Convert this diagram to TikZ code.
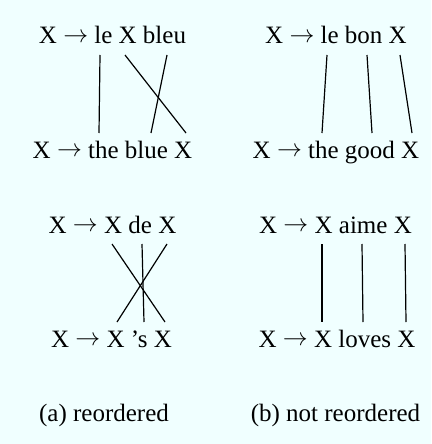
\documentclass[tikz,border=0pt]{standalone}
\usepackage{fontspec}
\setmainfont{Liberation Serif}
\definecolor{bgazure}{HTML}{F0FFFF}
\newcommand{\ruleto}{\raisebox{1.5pt}{$\rightarrow$}}
\tikzset{
  rule/.style={anchor=base, inner sep=0pt, font=\fontsize{25}{30}\selectfont},
  link/.style={line width=1.2pt, line cap=butt},
}
\begin{document}
\begin{tikzpicture}[x=1pt,y=-1pt]
\fill[bgazure] (0,0) rectangle (431,444);
\useasboundingbox (0,0) rectangle (431,444);
% panel a, row 1
\node[rule] (a1t) at (112.5,44) {X \ruleto{} le X bleu};
\node[rule] (a1b) at (112.5,158) {X \ruleto{} the blue X};
\coordinate (a1t1) at (100,55); \coordinate (a1b1) at (99,133);
\coordinate (a1t2) at (125,55); \coordinate (a1b2) at (186,133);
\coordinate (a1t3) at (167,55); \coordinate (a1b3) at (151,133);
\draw[link] (a1t1) -- (a1b1);
\draw[link] (a1t2) -- (a1b2);
\draw[link] (a1t3) -- (a1b3);
% panel b, row 1
\node[rule] (b1t) at (336,44) {X \ruleto{} le bon X};
\node[rule] (b1b) at (336,158) {X \ruleto{} the good X};
\coordinate (b1t1) at (327,55); \coordinate (b1b1) at (322,133);
\coordinate (b1t2) at (367,55); \coordinate (b1b2) at (372,133);
\coordinate (b1t3) at (400,55); \coordinate (b1b3) at (412,133);
\draw[link] (b1t1) -- (b1b1);
\draw[link] (b1t2) -- (b1b2);
\draw[link] (b1t3) -- (b1b3);
% panel a, row 2
\node[rule] (a2t) at (112.5,233) {X \ruleto{} X de X};
\node[rule] (a2b) at (111.5,347) {X \ruleto{} X ’s X};
\coordinate (a2t1) at (112,244); \coordinate (a2b1) at (165,322);
\coordinate (a2t2) at (142,244); \coordinate (a2b2) at (144,322);
\coordinate (a2t3) at (167,244); \coordinate (a2b3) at (117,322);
\draw[link] (a2t1) -- (a2b1);
\draw[link] (a2t2) -- (a2b2);
\draw[link] (a2t3) -- (a2b3);
% panel b, row 2
\node[rule] (b2t) at (335.5,233) {X \ruleto{} X aime X};
\node[rule] (b2b) at (337,347) {X \ruleto{} X loves X};
\coordinate (b2t1) at (322,244); \coordinate (b2b1) at (322,322);
\coordinate (b2t2) at (362,244); \coordinate (b2b2) at (363,322);
\coordinate (b2t3) at (405,244); \coordinate (b2b3) at (406,322);
\draw[link] (b2t1) -- (b2b1);
\draw[link] (b2t2) -- (b2b2);
\draw[link] (b2t3) -- (b2b3);
% captions
\node[rule] (capa) at (104,421) {(a) reordered};
\node[rule] (capb) at (335.5,421) {(b) not reordered};
\end{tikzpicture}
\end{document}
